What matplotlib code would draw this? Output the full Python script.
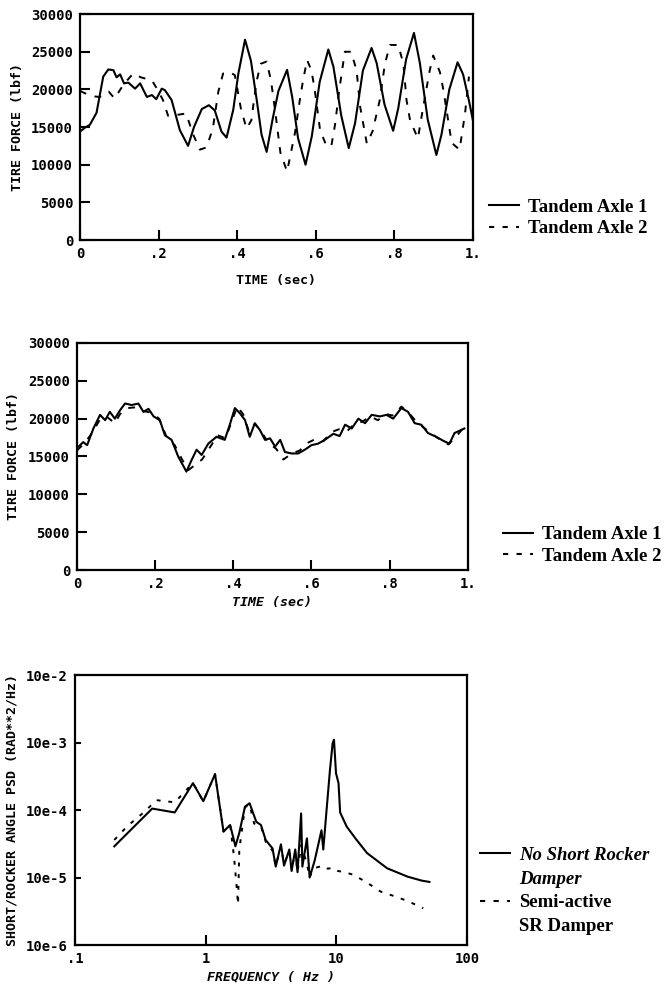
import matplotlib
matplotlib.use("Agg")
import matplotlib.pyplot as plt
from matplotlib.lines import Line2D
from matplotlib.ticker import FixedLocator, FixedFormatter, NullLocator

# --- top panel: tire force, two tandem axles (large oscillation) ---
top_t1 = [0, 0.012, 0.025, 0.042, 0.059, 0.072, 0.085, 0.093, 0.102, 0.112, 0.123,
          0.14, 0.153, 0.17, 0.183, 0.194, 0.208, 0.216, 0.233, 0.254, 0.275, 0.29,
          0.31, 0.328, 0.343, 0.36, 0.373, 0.39, 0.403, 0.42, 0.435, 0.45, 0.462,
          0.475, 0.49, 0.505, 0.527, 0.54, 0.555, 0.574, 0.59, 0.61, 0.632, 0.645,
          0.665, 0.684, 0.70, 0.72, 0.742, 0.755, 0.775, 0.797, 0.81, 0.83, 0.85,
          0.865, 0.885, 0.907, 0.92, 0.94, 0.961, 0.975, 0.99, 1.0]
top_f1 = [14400, 14900, 15300, 16900, 21700, 22650, 22550, 21600, 22000, 20800, 20900,
          20100, 20800, 19000, 19250, 18700, 20100, 19900, 18600, 14600, 12500, 15000,
          17400, 17900, 17200, 14400, 13600, 17300, 22100, 26600, 23800, 18500, 14000,
          11700, 16000, 19800, 22600, 19000, 13500, 10000, 13800, 21000, 25300, 23000,
          16500, 12200, 15500, 22500, 25500, 23500, 18000, 14500, 17500, 24000, 27500,
          23500, 16000, 11300, 14000, 20000, 23600, 22000, 18500, 15900]
top_t2 = [0.0, 0.012, 0.03, 0.05, 0.073, 0.088, 0.11, 0.135, 0.155, 0.183, 0.198,
          0.211, 0.224, 0.245, 0.27, 0.288, 0.305, 0.322, 0.338, 0.352, 0.364, 0.38,
          0.394, 0.41, 0.424, 0.436, 0.449, 0.46, 0.475, 0.486, 0.497, 0.51, 0.527,
          0.547, 0.56, 0.568, 0.578, 0.589, 0.597, 0.611, 0.628, 0.64, 0.649, 0.66,
          0.674, 0.69, 0.704, 0.713, 0.73, 0.745, 0.763, 0.776, 0.789, 0.81, 0.823,
          0.831, 0.84, 0.86, 0.873, 0.89, 0.899, 0.916, 0.925, 0.946, 0.966, 0.98, 0.99]
top_f2 = [19800, 19500, 19100, 19000, 19700, 18800, 20600, 22100, 21600, 21200, 19900,
          18600, 16500, 16600, 16800, 14000, 12000, 12300, 14800, 19700, 22100, 22300,
          21900, 17300, 14800, 15900, 21000, 23400, 23700, 21200, 17000, 11600, 9100,
          14200, 18800, 21300, 23900, 22500, 20100, 14600, 12400, 12600, 15300, 20000,
          25000, 25000, 22500, 17700, 12800, 14500, 18600, 23400, 25900, 25900, 23400,
          18600, 15900, 13500, 17500, 22500, 24500, 22300, 19900, 12900, 12000, 16800, 21700]

# --- middle panel: tire force with damping ---
mid_t1 = [0, 0.016, 0.026, 0.042, 0.059, 0.072, 0.084, 0.097, 0.11, 0.123, 0.14,
          0.157, 0.17, 0.183, 0.196, 0.212, 0.225, 0.242, 0.259, 0.28, 0.293, 0.306,
          0.319, 0.336, 0.357, 0.378, 0.391, 0.404, 0.417, 0.43, 0.442, 0.455, 0.468,
          0.481, 0.494, 0.507, 0.52, 0.532, 0.549, 0.566, 0.583, 0.6, 0.617, 0.634,
          0.656, 0.672, 0.686, 0.703, 0.72, 0.737, 0.754, 0.775, 0.792, 0.809, 0.83,
          0.847, 0.864, 0.881, 0.898, 0.919, 0.94, 0.953, 0.966, 0.983, 0.991]
mid_f1 = [16100, 16900, 16500, 18700, 20500, 19800, 20900, 20000, 21100, 22000, 21800,
          22000, 20900, 21300, 20300, 19800, 17800, 17200, 15000, 13000, 14500, 15900,
          15200, 16700, 17600, 17200, 19200, 21400, 20700, 19800, 17600, 19400, 18500,
          17200, 17400, 16300, 17200, 15600, 15400, 15400, 15900, 16500, 16700, 17200,
          18000, 17700, 19200, 18700, 20000, 19400, 20500, 20300, 20500, 20000, 21400,
          20900, 19400, 19200, 18100, 17600, 17000, 16700, 18100, 18500, 18700]
mid_t2 = [0, 0.02, 0.04, 0.06, 0.075, 0.097, 0.11, 0.13, 0.15, 0.17, 0.19, 0.21,
          0.23, 0.25, 0.27, 0.285, 0.3, 0.32, 0.34, 0.36, 0.38, 0.395, 0.41, 0.425,
          0.44, 0.455, 0.47, 0.49, 0.51, 0.528, 0.55, 0.57, 0.59, 0.61, 0.63, 0.65,
          0.67, 0.69, 0.71, 0.73, 0.75, 0.77, 0.79, 0.81, 0.83, 0.85, 0.87, 0.89,
          0.91, 0.93, 0.95, 0.97, 0.99]
mid_f2 = [15800, 16800, 18200, 20000, 20300, 19400, 20600, 21400, 21500, 21000, 20800,
          20000, 17500, 16500, 14500, 13200, 13800, 14600, 16200, 17800, 17400, 19500,
          21600, 20600, 18300, 19300, 18400, 16800, 16000, 14600, 15400, 15800, 16800,
          17300, 17000, 18200, 18600, 18300, 19300, 19600, 20300, 19800, 20600, 20400,
          21600, 20700, 19500, 18700, 17900, 17200, 16600, 17600, 18900]

# --- bottom panel: short/rocker angle PSD ---
psd_f1 = [0.2, 0.39, 0.58, 0.8, 0.96, 1.18, 1.37, 1.54, 1.69, 1.81, 2.0, 2.17, 2.44,
          2.65, 2.88, 3.25, 3.44, 3.77, 3.98, 4.37, 4.55, 4.85, 5.05, 5.38, 5.5, 5.96,
          6.25, 6.84, 7.7, 7.95, 8.3, 8.94, 9.37, 9.6, 9.95, 10.4, 10.7, 12.0, 14.0,
          17.2, 24.5, 35.1, 45.0, 51.6]
psd_v1 = [2.9e-5, 1.05e-4, 9.2e-5, 2.5e-4, 1.35e-4, 3.4e-4, 4.8e-5, 6.0e-5, 2.9e-5,
          4.6e-5, 1.12e-4, 1.26e-4, 6.7e-5, 6.0e-5, 3.6e-5, 2.7e-5, 1.45e-5, 3.1e-5,
          1.5e-5, 2.6e-5, 1.25e-5, 2.6e-5, 1.2e-5, 8.9e-5, 1.45e-5, 3.8e-5, 1.0e-5,
          1.8e-5, 5.0e-5, 2.6e-5, 7.1e-5, 3.9e-4, 9.7e-4, 1.1e-3, 3.5e-4, 2.5e-4,
          9.2e-5, 5.7e-5, 3.8e-5, 2.3e-5, 1.37e-5, 1.03e-5, 9.0e-6, 8.6e-6]
psd_f2 = [0.2, 0.25, 0.34, 0.42, 0.58, 0.8, 0.96, 1.18, 1.37, 1.54, 1.65, 1.72, 1.77,
          1.81, 2.0, 2.17, 2.35, 2.65, 2.88, 3.25, 3.44, 3.77, 3.98, 4.37, 4.55, 4.85,
          5.05, 5.38, 5.96, 6.25, 6.6, 7.0, 7.9, 8.6, 9.5, 10.3, 11.5, 13.5, 17.2,
          21.8, 27.7, 35.0, 46.3]
psd_v2 = [3.6e-5, 5.7e-5, 9.4e-5, 1.4e-4, 1.3e-4, 2.5e-4, 1.35e-4, 3.4e-4, 4.8e-5,
          6.0e-5, 2.0e-5, 8.0e-6, 4.0e-6, 2.6e-5, 1.1e-4, 1.2e-4, 6.3e-5, 5.8e-5,
          3.4e-5, 2.5e-5, 1.5e-5, 2.9e-5, 1.6e-5, 2.4e-5, 1.3e-5, 2.4e-5, 1.2e-5,
          3.0e-5, 1.6e-5, 1.0e-5, 1.3e-5, 1.4e-5, 1.5e-5, 1.35e-5, 1.4e-5, 1.25e-5,
          1.2e-5, 1.1e-5, 8.4e-6, 6.2e-6, 5.3e-6, 4.5e-6, 3.5e-6]

force_ticks = [0, 5000, 10000, 15000, 20000, 25000, 30000]
time_ticks = [0, 0.2, 0.4, 0.6, 0.8, 1.0]
time_labels = ["0", ".2", ".4", ".6", ".8", "1."]
psd_yticks = [1e-6, 1e-5, 1e-4, 1e-3, 1e-2]
psd_ylabels = ["10e-6", "10e-5", "10e-4", "10e-3", "10e-2"]
psd_xticks = [0.1, 1, 10, 100]
psd_xlabels = [".1", "1", "10", "100"]

MONO = "DejaVu Sans Mono"
SERIF = "Liberation Serif"
DASH = (0, (3.5, 4.5))
LEG_DASH = (0, (2.5, 4))


def style_axes(ax):
    for sp in ax.spines.values():
        sp.set_linewidth(1.6)
    ax.tick_params(direction="in", length=7, width=1.5, top=False, right=False,
                   pad=5)
    for lab in ax.get_xticklabels() + ax.get_yticklabels():
        lab.set_family(MONO)
        lab.set_weight("bold")
        lab.set_fontsize(10)


def force_panel(ax, t1, f1, t2, f2, xstyle, leg_anchor):
    ax.plot(t1, f1, color="black", lw=1.5)
    ax.plot(t2, f2, color="black", lw=1.4, linestyle=DASH)
    ax.set_xlim(0, 1.0)
    ax.set_ylim(0, 30000)
    ax.xaxis.set_major_locator(FixedLocator(time_ticks))
    ax.xaxis.set_major_formatter(FixedFormatter(time_labels))
    ax.yaxis.set_major_locator(FixedLocator(force_ticks))
    ax.yaxis.set_major_formatter(FixedFormatter([str(v) for v in force_ticks]))
    style_axes(ax)
    ax.set_ylabel("TIRE FORCE (lbf)", family=MONO, weight="bold", fontsize=9.5)
    ax.set_xlabel("TIME (sec)", family=MONO, weight="bold", fontsize=9.5,
                  style=xstyle)
    handles = [Line2D([], [], color="black", lw=1.5),
               Line2D([], [], color="black", lw=1.5, linestyle=LEG_DASH)]
    ax.legend(handles, ["Tandem Axle 1", "Tandem Axle 2"], loc="lower left",
              bbox_to_anchor=leg_anchor, frameon=False, handlelength=1.6,
              handletextpad=0.5, borderaxespad=0, borderpad=0, labelspacing=0.25,
              prop={"family": SERIF, "weight": "bold", "size": 13.5})


def main():
    fig = plt.figure(figsize=(6.67, 9.85), dpi=100)

    ax1 = fig.add_axes([0.12, 0.7563, 0.589, 0.2294])
    force_panel(ax1, top_t1, top_f1, top_t2, top_f2, "normal", (1.041, 0.012))
    ax1.yaxis.set_label_coords(-0.142, 0.5)
    ax1.xaxis.set_label_coords(0.5, -0.15)

    ax2 = fig.add_axes([0.1154, 0.4213, 0.586, 0.2305])
    force_panel(ax2, mid_t1, mid_f1, mid_t2, mid_f2, "italic", (1.09, 0.022))
    ax2.yaxis.set_label_coords(-0.146, 0.5)
    ax2.xaxis.set_label_coords(0.5, -0.115)

    ax3 = fig.add_axes([0.1124, 0.0406, 0.5877, 0.2741])
    ax3.plot(psd_f1, psd_v1, color="black", lw=1.5)
    ax3.plot(psd_f2, psd_v2, color="black", lw=1.4, linestyle=(0, (2, 4)))
    ax3.set_xscale("log")
    ax3.set_yscale("log")
    ax3.set_xlim(0.1, 100)
    ax3.set_ylim(1e-6, 1e-2)
    ax3.xaxis.set_major_locator(FixedLocator(psd_xticks))
    ax3.xaxis.set_major_formatter(FixedFormatter(psd_xlabels))
    ax3.yaxis.set_major_locator(FixedLocator(psd_yticks))
    ax3.yaxis.set_major_formatter(FixedFormatter(psd_ylabels))
    ax3.xaxis.set_minor_locator(NullLocator())
    ax3.yaxis.set_minor_locator(NullLocator())
    style_axes(ax3)
    ax3.tick_params(axis="y", length=4)
    ax3.set_ylabel("SHORT/ROCKER ANGLE PSD (RAD**2/Hz)", family=MONO,
                   weight="bold", fontsize=9.5)
    ax3.set_xlabel("FREQUENCY ( Hz )", family=MONO, weight="bold",
                   fontsize=9.5, style="italic")
    ax3.yaxis.set_label_coords(-0.145, 0.5)
    ax3.xaxis.set_label_coords(0.5, -0.096)
    handles = [Line2D([], [], color="black", lw=1.5),
               Line2D([], [], color="none"),
               Line2D([], [], color="black", lw=1.5, linestyle=LEG_DASH),
               Line2D([], [], color="none")]
    leg = ax3.legend(handles, ["No Short Rocker", "Damper", "Semi-active", "SR Damper"],
                     loc="lower left", bbox_to_anchor=(1.033, 0.037), frameon=False,
                     handlelength=1.6, handletextpad=0.5, borderaxespad=0,
                     borderpad=0, labelspacing=0.35,
                     prop={"family": SERIF, "weight": "bold", "size": 13.5})
    for txt in leg.get_texts()[:2]:
        txt.set_style("italic")

    fig.savefig("out.png", dpi=100)


if __name__ == "__main__":
    main()
